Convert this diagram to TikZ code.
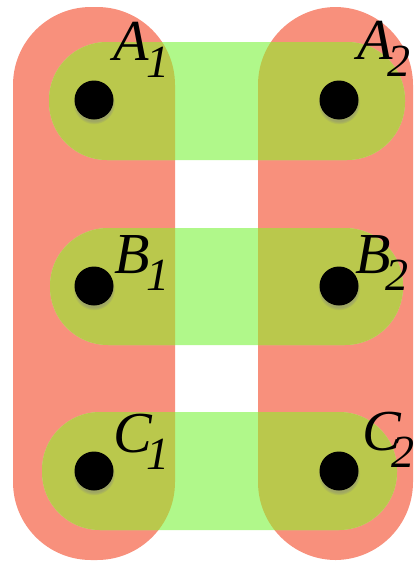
\documentclass[tikz,border=0pt]{standalone}
\usepackage{fontspec}
\setmainfont{Liberation Serif}
\usetikzlibrary{shadows}

\definecolor{setred}{RGB}{248,144,124}
\definecolor{setgreen}{RGB}{176,248,138}
\definecolor{setolive}{RGB}{186,200,76}

% label with a lowered, tucked-in subscript
\newcommand{\vlbl}[3]{#1\kern#3\raisebox{-17pt}{\fontsize{46}{46}\selectfont #2}}

\begin{document}
\begin{tikzpicture}[
      x=1pt,y=-1pt,
      every node/.style={font=\fontsize{58}{60}\selectfont\itshape},
      col/.style={fill=setred,rounded corners=78pt},
      row/.style={fill=setgreen,rounded corners=58pt},
      rowin/.style={fill=setolive,rounded corners=58pt},
      vtx/.style={circle,fill=black,minimum size=39pt,inner sep=0pt,
        circular drop shadow={shadow xshift=0pt,shadow yshift=-3pt,shadow scale=1.08,opacity=.45}},
      lbl/.style={anchor=base west,inner sep=0pt}
    ]
    \fill[white] (0,0) rectangle (417,565);
    \useasboundingbox (0,0) rectangle (417,565);
    % columns
    \fill[col] (13,7) rectangle (175,560);
    \fill[col] (258,7) rectangle (413,560);
    % rows
    \fill[row] (49,42) rectangle (405,160);
    \fill[row] (50,228) rectangle (403,345);
    \fill[row] (42,412) rectangle (397,530);
    % overlap of rows and columns
    \begin{scope}
      \clip[rounded corners=78pt] (13,7) rectangle (175,560) (258,7) rectangle (413,560);
      \fill[rowin] (49,42) rectangle (405,160);
      \fill[rowin] (50,228) rectangle (403,345);
      \fill[rowin] (42,412) rectangle (397,530);
    \end{scope}
    % vertices
    \node[vtx] (a1) at (94,100) {};
    \node[vtx] (a2) at (339,100) {};
    \node[vtx] (b1) at (94,286) {};
    \node[vtx] (b2) at (339,286) {};
    \node[vtx] (c1) at (94,471) {};
    \node[vtx] (c2) at (339,471) {};
    % labels
    \node[lbl] (la1) at (113,60) {\vlbl{A}{1}{-2pt}};
    \node[lbl] (la2) at (357,59) {\vlbl{A}{2}{-5pt}};
    \node[lbl] (lb1) at (114,273) {\vlbl{B}{1}{-3pt}};
    \node[lbl] (lb2) at (355,273) {\vlbl{B}{2}{-5pt}};
    \node[lbl] (lc1) at (113,452) {\vlbl{C}{1}{-5pt}};
    \node[lbl] (lc2) at (362,450) {\vlbl{C}{2}{-9pt}};
  \end{tikzpicture}
\end{document}
